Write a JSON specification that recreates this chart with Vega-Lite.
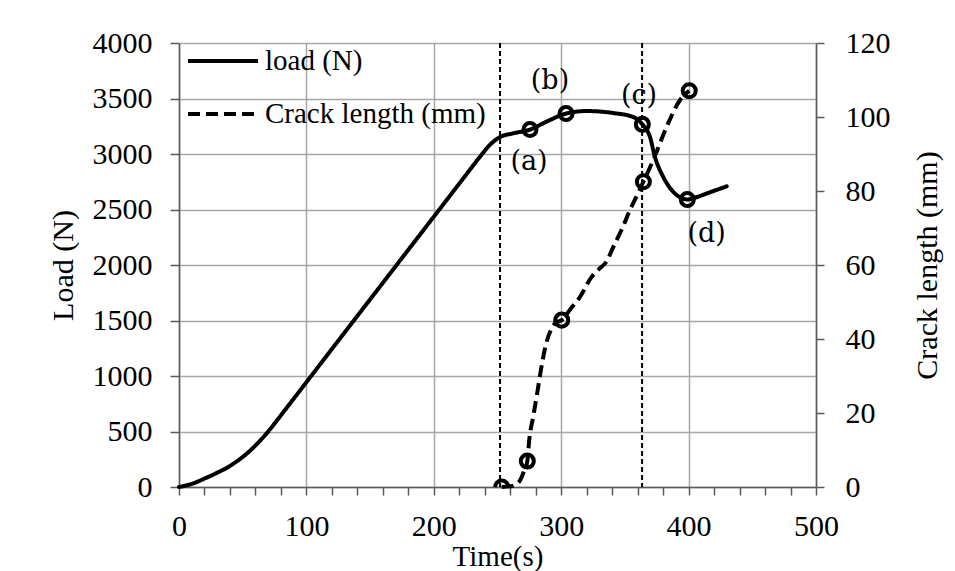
{
  "$schema": "https://vega.github.io/schema/vega-lite/v6.json",
  "width": 637,
  "height": 444,
  "autosize": {"type": "none"},
  "padding": {"left": 179, "top": 43, "right": 139, "bottom": 84},
  "background": "white",
  "datasets": {
    "loadCurve": [
      {"time": 0, "load": 0}, {"time": 5, "load": 12}, {"time": 10, "load": 28}, {"time": 15, "load": 50},
      {"time": 20, "load": 76}, {"time": 25, "load": 101}, {"time": 30, "load": 129}, {"time": 37.4, "load": 172},
      {"time": 45, "load": 228}, {"time": 53.1, "load": 300}, {"time": 61, "load": 385}, {"time": 68.8, "load": 483},
      {"time": 76.5, "load": 594}, {"time": 84.5, "load": 713}, {"time": 92.5, "load": 832}, {"time": 100.2, "load": 947},
      {"time": 110.7, "load": 1104}, {"time": 130, "load": 1392}, {"time": 150, "load": 1690}, {"time": 170, "load": 1988},
      {"time": 190, "load": 2286}, {"time": 210, "load": 2584}, {"time": 225, "load": 2808}, {"time": 236.3, "load": 2976},
      {"time": 244, "load": 3082}, {"time": 252, "load": 3153}, {"time": 262, "load": 3185}, {"time": 275.5, "load": 3220},
      {"time": 290, "load": 3300}, {"time": 303.8, "load": 3364}, {"time": 320, "load": 3387}, {"time": 340.9, "load": 3369},
      {"time": 356.6, "load": 3333}, {"time": 363.7, "load": 3267}, {"time": 369.7, "load": 3153}, {"time": 373.6, "load": 2973},
      {"time": 380.1, "load": 2793}, {"time": 388, "load": 2658}, {"time": 393, "load": 2612}, {"time": 399, "load": 2590},
      {"time": 406, "load": 2610}, {"time": 414.2, "load": 2644}, {"time": 429.9, "load": 2709}
    ],
    "loadMarks": [
      {"time": 275.5, "load": 3220}, {"time": 303.8, "load": 3364}, {"time": 363.7, "load": 3267}, {"time": 399, "load": 2590}
    ],
    "labels": [
      {"time": 274.7, "load": 2925, "label": "(a)"},
      {"time": 291.2, "load": 3657, "label": "(b)"},
      {"time": 361.1, "load": 3522, "label": "(c)"},
      {"time": 414.2, "load": 2277, "label": "(d)"}
    ],
    "crackCurve": [
      {"time": 253.3, "crack": 0}, {"time": 262, "crack": 0.3}, {"time": 267.7, "crack": 1.8}, {"time": 271, "crack": 4.5},
      {"time": 273.4, "crack": 7.0}, {"time": 275, "crack": 13}, {"time": 278, "crack": 19}, {"time": 281, "crack": 25},
      {"time": 284, "crack": 31.5}, {"time": 288, "crack": 38.5}, {"time": 292, "crack": 42.5}, {"time": 296, "crack": 44.5},
      {"time": 300.4, "crack": 45.1}, {"time": 307, "crack": 48}, {"time": 314.8, "crack": 51.4}, {"time": 323.9, "crack": 56.8},
      {"time": 330, "crack": 59}, {"time": 335.7, "crack": 61}, {"time": 340.9, "crack": 64.9}, {"time": 348, "crack": 70},
      {"time": 354, "crack": 74.9}, {"time": 359, "crack": 78.5}, {"time": 364.5, "crack": 82.5}, {"time": 372.3, "crack": 88.4},
      {"time": 382.8, "crack": 97.4}, {"time": 393.3, "crack": 104.6}, {"time": 400.5, "crack": 107.1}
    ],
    "crackMarks": [
      {"time": 253.3, "crack": 0}, {"time": 273.4, "crack": 7.0}, {"time": 300.4, "crack": 45.1},
      {"time": 364.5, "crack": 82.5}, {"time": 400.5, "crack": 107.1}
    ],
    "events": [{"time": 252}, {"time": 363.5}]
  },
  "layer": [
    {
      "data": {"name": "events"},
      "mark": {"type": "rule", "color": "black", "strokeWidth": 2, "strokeDash": [5, 3]},
      "encoding": {
        "x": {"field": "time", "type": "quantitative", "scale": {"domain": [0, 500]}}
      }
    },
    {
      "encoding": {
        "x": {"field": "time", "type": "quantitative", "scale": {"domain": [0, 500]}},
        "y": {
          "field": "crack", "type": "quantitative",
          "scale": {"domain": [0, 120], "nice": false},
          "axis": {
            "orient": "right",
            "values": [0, 20, 40, 60, 80, 100, 120],
            "tickCount": 10,
            "format": "d",
            "grid": false,
            "tickSize": 8,
            "labelPadding": 21,
            "labelBaseline": "middle",
            "title": "Crack length (mm)",
            "titleX": 120,
            "titleY": 222,
            "titleAngle": 270,
            "titleAlign": "center",
            "titleBaseline": "alphabetic",
            "titleFontSize": 30
          }
        }
      },
      "layer": [
        {
          "data": {"name": "crackCurve"},
          "mark": {"type": "line", "color": "black", "strokeWidth": 4, "strokeJoin": "round", "interpolate": "monotone"},
          "encoding": {
            "strokeDash": {
              "datum": "Crack length (mm)",
              "scale": {"domain": ["Crack length (mm)"], "range": [[12, 6]]},
              "legend": {"legendX": 7, "legendY": 34}
            }
          }
        },
        {
          "data": {"name": "crackMarks"},
          "mark": {"type": "point", "shape": "circle", "filled": false, "color": "black", "strokeWidth": 4, "size": 170, "opacity": 1, "clip": true}
        }
      ]
    },
    {
      "encoding": {
        "x": {
          "field": "time", "type": "quantitative",
          "scale": {"domain": [0, 500]},
          "axis": {
            "values": [0, 20, 40, 60, 80, 100, 120, 140, 160, 180, 200, 220, 240, 260, 280, 300, 320, 340, 360, 380, 400, 420, 440, 460, 480, 500],
            "tickCount": 40,
            "format": "d",
            "labelExpr": "datum.value % 100 === 0 ? datum.label : ''",
            "labelOverlap": false,
            "labelFlush": false,
            "grid": true,
            "gridOpacity": {"condition": {"test": "datum.value % 100 === 0", "value": 1}, "value": 0},
            "tickSize": 8,
            "labelPadding": 40,
            "labelBaseline": "alphabetic",
            "title": "Time(s)",
            "titleX": 318.5,
            "titleY": 78,
            "titleAlign": "center",
            "titleBaseline": "alphabetic",
            "titleFontSize": 29
          }
        },
        "y": {
          "field": "load", "type": "quantitative",
          "scale": {"domain": [0, 4000], "nice": false},
          "axis": {
            "values": [0, 500, 1000, 1500, 2000, 2500, 3000, 3500, 4000],
            "tickCount": 12,
            "format": "d",
            "grid": true,
            "tickSize": 9,
            "labelPadding": 18,
            "labelBaseline": "middle",
            "title": "Load (N)",
            "titleX": -107,
            "titleY": 222,
            "titleAngle": 270,
            "titleAlign": "center",
            "titleBaseline": "alphabetic",
            "titleFontSize": 30
          }
        }
      },
      "layer": [
        {
          "data": {"name": "loadCurve"},
          "mark": {"type": "line", "color": "black", "strokeWidth": 4, "strokeJoin": "round", "strokeCap": "round", "interpolate": "monotone"},
          "encoding": {
            "strokeDash": {
              "datum": "load (N)",
              "scale": {"domain": ["load (N)"], "range": [[1, 0]]},
              "legend": {"legendX": 7, "legendY": -19}
            }
          }
        },
        {
          "data": {"name": "loadMarks"},
          "mark": {"type": "point", "shape": "circle", "filled": false, "color": "black", "strokeWidth": 4, "size": 170, "opacity": 1}
        },
        {
          "data": {"name": "labels"},
          "mark": {"type": "text", "font": "DejaVu Serif", "fontSize": 27, "color": "black", "align": "center", "baseline": "middle"},
          "encoding": {"text": {"field": "label"}}
        }
      ]
    }
  ],
  "resolve": {
    "scale": {"y": "independent", "strokeDash": "independent"},
    "legend": {"strokeDash": "independent"}
  },
  "config": {
    "view": {"stroke": null},
    "axis": {
      "labelFont": "Liberation Serif",
      "titleFont": "Liberation Serif",
      "labelFontSize": 30,
      "labelColor": "black",
      "titleColor": "black",
      "titleFontWeight": "normal",
      "domainColor": "#595959",
      "domainWidth": 1.5,
      "tickColor": "#595959",
      "tickWidth": 1.5,
      "gridColor": "#a6a6a6",
      "gridWidth": 1.5
    },
    "legend": {
      "orient": "none",
      "title": null,
      "padding": 0,
      "symbolType": "stroke",
      "symbolSize": 4900,
      "symbolStrokeWidth": 4,
      "symbolStrokeColor": "black",
      "labelFont": "Liberation Serif",
      "labelFontSize": 29,
      "labelLimit": 500,
      "labelColor": "black",
      "labelOffset": 5
    }
  }
}
